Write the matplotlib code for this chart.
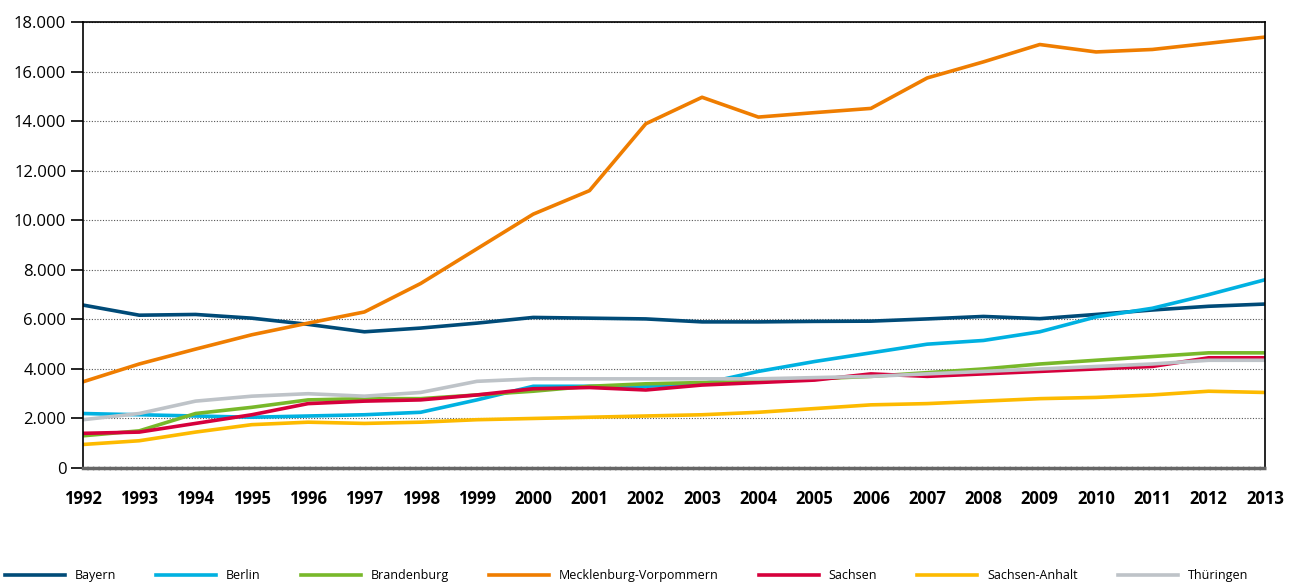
import matplotlib
matplotlib.use("Agg")
import matplotlib.pyplot as plt
from matplotlib.ticker import FuncFormatter

years = list(range(1992, 2014))
series_names = ["Bayern", "Berlin", "Brandenburg", "Mecklenburg-Vorpommern",
                "Sachsen", "Sachsen-Anhalt", "Thüringen"]
bayern = [6580, 6170, 6200, 6050, 5800, 5500, 5650, 5850, 6080, 6050, 6020,
          5900, 5900, 5920, 5930, 6020, 6120, 6030, 6200, 6380, 6530, 6620]
berlin = [2200, 2150, 2100, 2050, 2100, 2150, 2250, 2750, 3300, 3300, 3300,
          3400, 3900, 4300, 4650, 5000, 5150, 5500, 6100, 6450, 7000, 7600]
brandenburg = [1300, 1500, 2200, 2450, 2750, 2800, 2800, 2950, 3100, 3300, 3400,
               3450, 3500, 3600, 3700, 3850, 4000, 4200, 4350, 4500, 4650, 4650]
mecklenburg = [3480, 4200, 4800, 5380, 5850, 6300, 7450, 8850, 10250, 11200, 13900,
               14970, 14170, 14350, 14520, 15750, 16400, 17100, 16800, 16900, 17150, 17400]
sachsen = [1400, 1450, 1800, 2150, 2600, 2700, 2750, 2950, 3200, 3250, 3150,
           3350, 3450, 3550, 3800, 3700, 3800, 3900, 4000, 4100, 4450, 4450]
sachsen_anhalt = [950, 1100, 1450, 1750, 1850, 1800, 1850, 1950, 2000, 2050, 2100,
                  2150, 2250, 2400, 2550, 2600, 2700, 2800, 2850, 2950, 3100, 3050]
thueringen = [1950, 2200, 2700, 2900, 3000, 2900, 3050, 3500, 3600, 3600, 3600,
              3600, 3600, 3650, 3700, 3800, 3900, 4000, 4100, 4200, 4350, 4350]
y_ticks = [0, 2000, 4000, 6000, 8000, 10000, 12000, 14000, 16000, 18000]

data = [bayern, berlin, brandenburg, mecklenburg, sachsen, sachsen_anhalt, thueringen]
colors = ["#004B78", "#00B1E1", "#78B82A", "#EF7D00", "#D6003C", "#FDBA00", "#BEC3C8"]

plt.rcParams['font.family'] = ['Open Sans', 'DejaVu Sans']

fig = plt.figure(figsize=(12.96, 5.85), dpi=100)
ax = fig.add_axes([0.064, 0.2, 0.912, 0.762])

for name, vals, c in zip(series_names, data, colors):
    ax.plot(years, vals, color=c, lw=2.6, label=name, solid_joinstyle='round')

ax.set_xlim(1992, 2013)
ax.set_ylim(0, 18000)
ax.set_yticks(y_ticks)
ax.yaxis.set_major_formatter(FuncFormatter(lambda v, p: f"{int(v):,}".replace(",", ".")))
ax.set_xticks(years)
ax.set_xticklabels([str(y) for y in years], fontweight='bold', fontsize=12)
ax.tick_params(axis='x', length=0, pad=16)
ax.tick_params(axis='y', length=9, width=1.2, labelsize=12, pad=3, color='black')
ax.grid(axis='y', linestyle=(0, (1, 1.5)), color='#555555', lw=0.8)
ax.set_axisbelow(True)
for s in ['top', 'left', 'right']:
    ax.spines[s].set_color('black')
    ax.spines[s].set_linewidth(1.2)
ax.spines['bottom'].set_color('#666666')
ax.spines['bottom'].set_linewidth(2.5)
ax.spines['bottom'].set_linestyle((0, (1, 0.6)))

fig.legend(loc='lower center', bbox_to_anchor=(0.4835, -0.014), ncol=7, frameon=False,
           prop={'size': 9},
           handlelength=4.8, columnspacing=3.2, handletextpad=0.8)

fig.savefig("out.png", dpi=100)
